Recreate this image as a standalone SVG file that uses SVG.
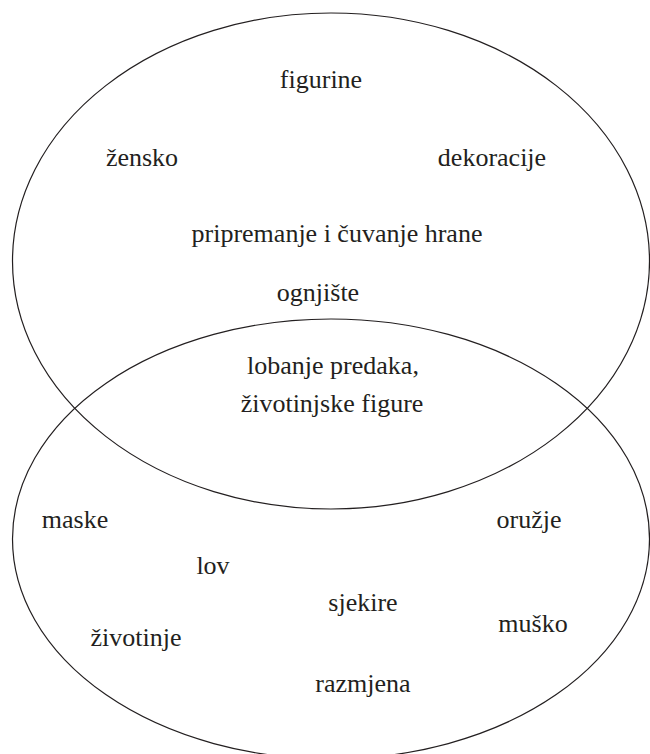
<svg xmlns="http://www.w3.org/2000/svg" width="650" height="754" viewBox="0 0 650 754">
<style>
.e{fill:none;stroke:#231f20;stroke-width:1.2}
</style>
<rect width="650" height="754" fill="#fff"/>
<g id="set-top"><ellipse class="e" cx="331" cy="261" rx="318.5" ry="248"/></g>
<g id="set-bottom"><ellipse class="e" cx="331" cy="539" rx="318.5" ry="220"/></g>
<g id="labels" font-size="26" fill="#231f20" text-anchor="middle">
<text x="321" y="88" font-family="Liberation Serif">figurine</text>
<text x="142" y="166" font-family="Liberation Serif">&#382;ensko</text>
<text x="492" y="166" font-family="Liberation Serif">dekoracije</text>
<text x="337" y="242" font-family="Liberation Serif">pripremanje i &#269;uvanje hrane</text>
<text x="318" y="301" font-family="Liberation Serif">ognji&#353;te</text>
<text x="333" y="374" font-family="Liberation Serif">lobanje predaka,</text>
<text x="332" y="412" font-family="Liberation Serif">&#382;ivotinjske figure</text>
<text x="75" y="528" font-family="Liberation Serif">maske</text>
<text x="529" y="528" font-family="Liberation Serif">oru&#382;je</text>
<text x="213" y="574" font-family="Liberation Serif">lov</text>
<text x="363" y="611" font-family="Liberation Serif">sjekire</text>
<text x="533" y="632" font-family="Liberation Serif">mu&#353;ko</text>
<text x="136" y="646" font-family="Liberation Serif">&#382;ivotinje</text>
<text x="363" y="692" font-family="Liberation Serif">razmjena</text>
</g>
</svg>
